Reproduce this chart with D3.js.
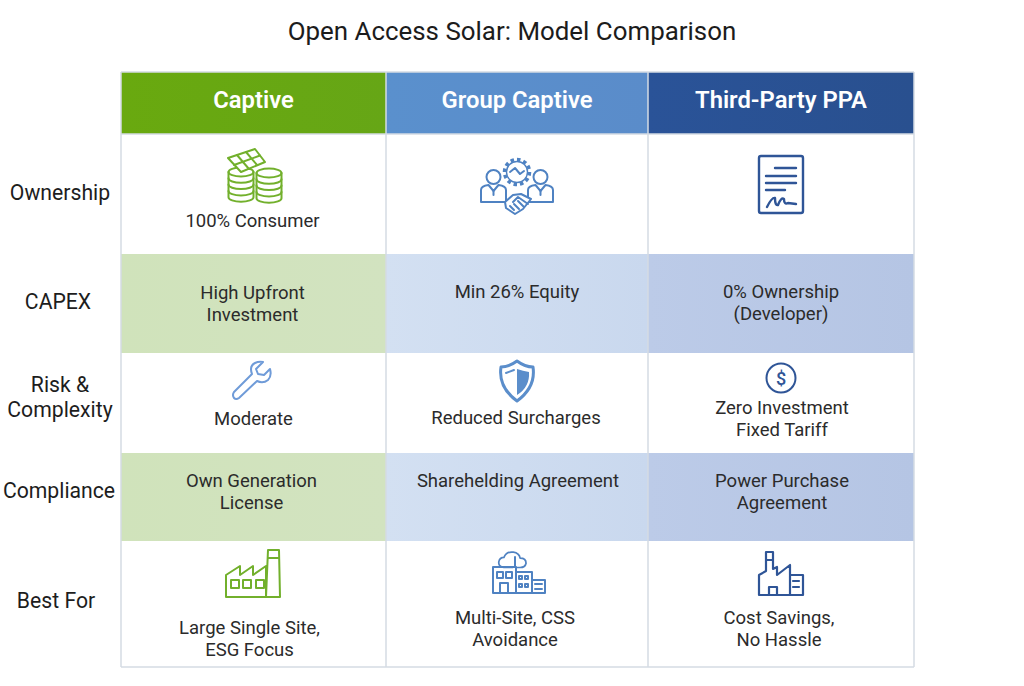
<!DOCTYPE html>
<html>
<head>
<meta charset="utf-8">
<script src="https://cdn.jsdelivr.net/npm/d3@7"></script>
<style>
html, body { margin: 0; padding: 0; background: #fff; }
svg { display: block; }
text { font-family: Roboto, "Noto Sans", sans-serif; }
</style>
</head>
<body>
<div id="app"></div>
<script>
const title = "Open Access Solar: Model Comparison";
const models = ["Captive", "Group Captive", "Third-Party PPA"];
const rowLabels = [["Ownership"], ["CAPEX"], ["Risk &", "Complexity"], ["Compliance"], ["Best For"]];

const captiveCells = [["100% Consumer"], ["High Upfront", "Investment"], ["Moderate"], ["Own Generation", "License"], ["Large Single Site,", "ESG Focus"]];
const groupCells = [[], ["Min 26% Equity"], ["Reduced Surcharges"], ["Sharehelding Agreement"], ["Multi-Site, CSS", "Avoidance"]];
const ppaCells = [[], ["0% Ownership", "(Developer)"], ["Zero Investment", "Fixed Tariff"], ["Power Purchase", "Agreement"], ["Cost Savings,", "No Hassle"]];

// layout of the table
const width = 1024, height = 686;
const colEdges = [121, 386, 648, 914];
const rowEdges = [134, 254, 353, 453, 541, 667];
const headTop = 72;
const textTop = [[221], [293, 292, 292], [419, 418, 408], [481, 481, 481], [628, 618, 618]];
const textDx = [[-1], [-1, 0, 0], [0, -1, 1], [-2, 1, 1], [-4, -2, -2]];
const labelY = [193, 302, 385, 491, 601];
const labelX = [60, 58, 60, 59, 56];

const iconColor = ["#72b02c", "#4f82c2", "#2f5597"];

const svg = d3.select("#app").append("svg").attr("width", width).attr("height", height);
const defs = svg.append("defs");

const gradient = (id, a, b) => {
	let g = defs.append("linearGradient").attr("id", id);
	g.append("stop").attr("offset", "0%").attr("stop-color", a);
	g.append("stop").attr("offset", "100%").attr("stop-color", b);
};
gradient("head0", "#69a90f", "#66a616");
gradient("head1", "#5a90cd", "#5a8cca");
gradient("head2", "#2a5398", "#29508f");
gradient("stripe0", "#d0e3bb", "#d2e3c0");
gradient("stripe1", "#d3e0f2", "#c9d8ee");
gradient("stripe2", "#bccbe8", "#b5c5e4");

const colX = d3.scaleOrdinal(d3.range(models.length), colEdges);
const rowY = d3.scaleOrdinal(d3.range(rowLabels.length), rowEdges);
const colW = i => colEdges[i + 1] - colEdges[i];
const rowH = i => rowEdges[i + 1] - rowEdges[i];
const colMid = i => colX(i) + colW(i) / 2;

svg.append("text")
	.attr("x", width / 2)
	.attr("y", 40)
	.attr("text-anchor", "middle")
	.attr("font-size", 25.9)
	.attr("fill", "#1c1c1c")
	.text(title);

// Striped body rows
[1, 3].forEach(r => {
	models.forEach((m, i) => {
		svg.append("rect")
			.attr("x", colX(i)).attr("y", rowY(r))
			.attr("width", colW(i)).attr("height", rowH(r))
			.attr("fill", "url(#stripe" + i + ")");
	});
});

// Header cells
models.forEach((m, i) => {
	svg.append("rect")
		.attr("x", colX(i)).attr("y", headTop)
		.attr("width", colW(i)).attr("height", rowEdges[0] - headTop)
		.attr("fill", "url(#head" + i + ")");
	svg.append("text")
		.attr("x", colMid(i))
		.attr("y", 108)
		.attr("text-anchor", "middle")
		.attr("font-size", 23.8)
		.attr("font-weight", 600)
		.attr("fill", "#fff")
		.text(m);
});

// Grid lines
const gridColor = "#d5dbe3";
colEdges.forEach(c => {
	svg.append("line").attr("x1", c).attr("x2", c).attr("y1", headTop).attr("y2", rowEdges[5])
		.attr("stroke", gridColor).attr("stroke-width", 1.5);
});
[headTop, rowEdges[0], rowEdges[5]].forEach(r => {
	svg.append("line").attr("x1", colEdges[0]).attr("x2", colEdges[3]).attr("y1", r).attr("y2", r)
		.attr("stroke", gridColor).attr("stroke-width", 1.5);
});

// Row labels
rowLabels.forEach((lines, r) => {
	lines.forEach((l, k) => {
		svg.append("text")
			.attr("x", labelX[r])
			.attr("y", labelY[r] + 7 + k * 25)
			.attr("text-anchor", "middle")
			.attr("font-size", 21.2)
			.attr("font-weight", 450)
			.attr("fill", "#1d1d1d")
			.text(l);
	});
});

// Cell text
[captiveCells, groupCells, ppaCells].forEach((cells, c) => {
	cells.forEach((lines, r) => {
		lines.forEach((l, k) => {
			svg.append("text")
				.attr("x", colMid(c) + textDx[r][c])
				.attr("y", textTop[r][c] + 6 + k * 22)
				.attr("text-anchor", "middle")
				.attr("font-size", 18.5)
				.attr("fill", "#2b2b2b")
				.text(l);
		});
	});
});

// Icons: drawn in local pixels around their centre
function icon(cx, cy, color, sw) {
	return svg.append("g")
		.attr("transform", "translate(" + cx + "," + cy + ")")
		.attr("fill", "none")
		.attr("stroke", color)
		.attr("stroke-width", sw || 2)
		.attr("stroke-linecap", "round")
		.attr("stroke-linejoin", "round");
}
const addPath = (g, d) => g.append("path").attr("d", d);

function coinStack(g, cx, top, bands) {
	const rx = 12.5, ry = 4.5, step = 6.3;
	g.append("ellipse").attr("cx", cx).attr("cy", top).attr("rx", rx).attr("ry", ry).attr("fill", "#fff");
	addPath(g, "M" + (cx - rx) + "," + top + "V" + (top + bands * step) +
		"A" + rx + "," + ry + " 0 0 0 " + (cx + rx) + "," + (top + bands * step) + "V" + top);
	d3.range(1, bands).forEach(b => {
		addPath(g, "M" + (cx - rx) + "," + (top + b * step) + "A" + rx + "," + ry + " 0 0 0 " + (cx + rx) + "," + (top + b * step));
	});
}

// coins and panel
{
	let g = icon(254, 175, iconColor[0]);
	coinStack(g, -13, -3, 4);
	coinStack(g, 15, -2, 4);
	g.append("path").attr("d", "M-26,-17 L1,-26 L11,-13 L-13,-3 Z").attr("fill", "#fff");
	addPath(g, "M-20,-10 L6,-19.5 M-17,-20 L-5,-6 M-8,-23 L3,-10");
}
// two people, gear, handshake
{
	let g = icon(517, 190, iconColor[1]);
	[-23.5, 23.5].forEach(px => {
		g.append("circle").attr("cx", px).attr("cy", -13).attr("r", 7);
		addPath(g, "M" + (px - 12.5) + ",12 V0 Q" + (px - 12.5) + ",-4 " + (px - 5) + ",-5 L" + px + ",1 L" + (px + 5) + ",-5 Q" + (px + 12.5) + ",-4 " + (px + 12.5) + ",0 V12 Z");
		addPath(g, "M" + px + ",1 V5");
	});
	g.append("circle").attr("cx", 0).attr("cy", -18).attr("r", 12.5).attr("stroke-width", 3.5).attr("stroke-dasharray", "3.5 3").attr("stroke-linecap", "butt");
	g.append("circle").attr("cx", 0).attr("cy", -18).attr("r", 10.5).attr("stroke-width", 1.4);
	addPath(g, "M-7,-18 L-2,-22 L3,-16 L7,-19");
	g.append("path").attr("d", "M-12,12 L-4,5 L4,4 L14,9 L6,19 L-2,24 L-11,18 Z").attr("fill", "#fff");
	addPath(g, "M-4,12 L1,7 L11,14 M-7,16 L-3,20 M-3,14 L2,19 M1,11 L7,17");
}
// signed paper
{
	let g = icon(781, 185, iconColor[2], 2.4);
	g.append("rect").attr("x", -22).attr("y", -29).attr("width", 44).attr("height", 57).attr("rx", 2);
	addPath(g, "M-6,-17 H15 M-15,-9 H15 M-15,-2 H15 M-15,5 H4");
	addPath(g, "M-14,22 Q-9,12 -6,13 Q-6,21 -3,20 Q0,12 3,14 Q3,20 7,18 L15,19");
}
// wrench
{
	let g = icon(252, 380, "#6f9bd8");
	addPath(g, "M-18,12 L0,-6 Q-3,-14 3,-17 Q7,-19 11,-18 L4,-11 L6,-6 L12,-5 L18,-11 Q20,-4 16,0 Q11,4 5,1 L-13,18 Q-16,20 -18,18 Q-20,15 -18,12 Z");
}
// shield
{
	let g = icon(517, 381, "#5b8ecb", 3);
	addPath(g, "M0,-20 Q8,-14 16,-14 Q19,6 0,20 Q-19,6 -16,-14 Q-8,-14 0,-20 Z");
	g.append("path").attr("d", "M0,-12 Q6,-10 12,-9 Q13,6 0,14 Z").attr("fill", "#5b8ecb").attr("stroke", "none");
	g.append("path").attr("d", "M-11,-8 L-3,-11").attr("stroke-width", 2);
}
// dollar coin
{
	let g = icon(781, 378, iconColor[2]);
	g.append("circle").attr("r", 14.5);
	g.append("text")
		.attr("text-anchor", "middle").attr("y", 6.5)
		.attr("font-size", 18).attr("font-weight", 500)
		.attr("fill", iconColor[2]).attr("stroke", "none")
		.text("$");
}
// factory with chimney, green
{
	let g = icon(253, 575, iconColor[0]);
	addPath(g, "M-27,22 V0 L-13,-9 V0 L0,-9 V0 L13,-9 V22 M-27,22 H27 M13,22 L15,-25 H26 L27,22 M15,-17 H26");
	[-22, -10, 3].forEach(d => g.append("rect").attr("x", d).attr("y", 5).attr("width", 8).attr("height", 8));
}
// buildings under a cloud
{
	let g = icon(518, 573, iconColor[1]);
	let cloud = g.append("g").attr("transform", "translate(-3,3) scale(0.85)");
	addPath(cloud, "M-3,-10 H-13 Q-20,-11 -19,-17 Q-18,-22 -13,-22 Q-10,-29 -2,-28 Q5,-27 6,-21 Q13,-21 13,-15 Q12,-10 6,-10 H1");
	addPath(g, "M-3,-16 V-6");
	g.append("rect").attr("x", -25).attr("y", -6).attr("width", 23).attr("height", 26);
	g.append("rect").attr("x", -2).attr("y", -1).attr("width", 16).attr("height", 21);
	g.append("rect").attr("x", 14).attr("y", 7).attr("width", 13).attr("height", 13);
	[-21, -12].forEach(d => g.append("rect").attr("x", d).attr("y", -1).attr("width", 6).attr("height", 6));
	addPath(g, "M-18,20 V10 H-10 V20");
	[2, 8].forEach(d => {
		g.append("rect").attr("x", d - 1).attr("y", 3).attr("width", 3).attr("height", 3);
		g.append("rect").attr("x", d - 1).attr("y", 11).attr("width", 3).attr("height", 3);
	});
	addPath(g, "M17,11 H24 M17,16 H24");
}
// factory, navy
{
	let g = icon(781, 574, iconColor[2], 2.2);
	addPath(g, "M-22,21 V1 L-15,-3 V-22 H-8 V-5 L-4,-7 V1 L9,-9 V21 Z M-15,-14 H-8 M9,1 H22 V21 H9 M-12,21 V13 H-4 V21");
	addPath(g, "M12,7 H18 M12,13 H18");
}
</script>
</body>
</html>
